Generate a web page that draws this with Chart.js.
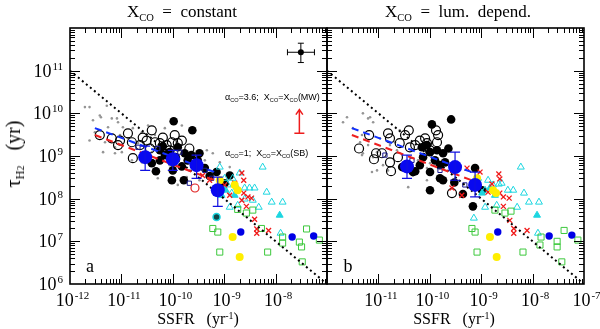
<!DOCTYPE html>
<html>
<head>
<meta charset="utf-8">
<script src="https://cdn.jsdelivr.net/npm/chart.js@4.4.0/dist/chart.umd.min.js"></script>
<style>
body { margin: 0; background: #fff; }
#wrap { position: relative; width: 600px; height: 329px; overflow: hidden; font-family: "Liberation Serif", serif; color: #000; }
canvas { position: absolute; left: 0; top: 0; }
.t { position: absolute; white-space: nowrap; transform: translate(-50%, -50%); line-height: 1; }
.sb { font-size: 0.62em; position: relative; top: 0.35em; }
.sp { font-size: 0.62em; position: relative; top: -0.55em; }
.ann { position: absolute; white-space: nowrap; font-family: "Liberation Sans", sans-serif; font-size: 9px; transform: translateY(-50%); line-height: 1; }
</style>
</head>
<body>
<div id="wrap">
  <canvas id="chartA" width="600" height="329"></canvas>
  <canvas id="chartB" width="600" height="329"></canvas>

  <div class="t" style="left:182px;top:11px;font-size:17px">X<span class="sb">CO</span>&nbsp; = &nbsp;constant</div>
  <div class="t" style="left:458px;top:11px;font-size:17px">X<span class="sb">CO</span>&nbsp; = &nbsp;lum.&nbsp; depend.</div>
  <div class="t" style="left:13px;top:154px;font-size:20px;transform:translate(-50%,-50%) rotate(-90deg)">&tau;<span class="sb">H<span style="font-size:0.8em">2</span></span>&nbsp;&nbsp; (yr)</div>
  <div class="t" style="left:198px;top:319px;font-size:16px">SSFR&nbsp;&nbsp; (yr<span class="sp">-1</span>)</div>
  <div class="t" style="left:454px;top:319px;font-size:16px">SSFR&nbsp;&nbsp; (yr<span class="sp">-1</span>)</div>
  <div class="t" style="left:90px;top:266px;font-size:18px">a</div>
  <div class="t" style="left:348px;top:266px;font-size:18px">b</div>
  <div class="ann" style="left:225px;top:97px">&alpha;<span class="sb">CO</span>=3.6;&nbsp; X<span class="sb">CO</span>=X<span class="sb">CO</span>(MW)</div>
  <div class="ann" style="left:225px;top:153px">&alpha;<span class="sb">CO</span>=1;&nbsp; X<span class="sb">CO</span>=X<span class="sb">CO</span>(SB)</div>
</div>

<script>
// axis decades and labels
const xDecades = [-12, -11, -10, -9, -8, -7];
const yDecades = [6, 7, 8, 9, 10, 11, 12];
const minorSteps = [2, 3, 4, 5, 6, 7, 8, 9];
const xLabelsA = [-12, -11, -10, -9, -8];
const xLabelsB = [-11, -10, -9, -8, -7];
const yLabels = [6, 7, 8, 9, 10, 11];

// reference lines [SSFR, tau]
const dottedLine = [[1e-12, 1e11], [1e-7, 1e6]];
const blueFit = [[3.05e-12, 4.5e9], [6.5e-10, 4.2e8]];
const redFit = [[3.05e-12, 3.1e9], [6.5e-10, 2.7e8]];

// typical error symbol [x, y, xlo, xhi, ylo, yhi] and alpha_CO arrow [x, ybottom, ytop]
const errSymbol = [3.1e-8, 2.7e11, 1.7e-8, 5.7e-8, 1.55e11, 4.4e11];
const alphaArrow = [2.9e-8, 3.4e9, 1.22e10];

// ---- panel a (X_CO constant) ----
const grayA = [[1.95e-12,1.4e10],[2.4e-12,1.4e10],[2.8e-12,6.9e9],[4.0e-12,8.1e9],[5.2e-12,1.5e10],[6.5e-12,7.6e9],
  [8.2e-12,7.6e9],[8.6e-12,6.2e9],[5.5e-12,4.7e9],[1.07e-11,4.7e9],[4.8e-12,2.1e9],[7.5e-12,1.6e9],[4.4e-12,1.23e9],
  [1.02e-11,1.23e9],[1.34e-11,2.6e9],[1.67e-11,4.5e9],[2.5e-11,3.6e9],[2.1e-11,2.0e9],[3.1e-11,1.8e9],[4.5e-11,3.1e9],
  [3.9e-11,1.23e9],[5.6e-11,1.36e9],[7.0e-11,4.5e9],[8.7e-11,6.1e8],[1.09e-10,5.2e8],[1.5e-10,5.2e9],[5.1e-11,3.0e8],
  [2.5e-11,7.1e8],[7.5e-12,1.16e9],[3.05e-12,3.6e9],[1.6e-11,7.9e8],[4.6e-10,1.36e9],[3.3e-10,2.7e8],[1.87e-10,3.2e8],
  [6.0e-10,1.16e9],[8.2e-10,7.1e8],[1.28e-9,5.5e8],[3.8e-12,8.9e9],[2.4e-12,2.3e9],[9.4e-12,3.1e9],[3.3e-11,5.2e9],
  [8.0e-11,2.3e9],[2.1e-10,4.6e8],[4.2e-10,7.9e8],[1.25e-10,2.1e8]];
const openA = [[3.8e-12,3.1e9],[6.5e-12,2.6e9],[9.4e-12,2.3e9],[8.6e-12,1.8e9],[1.34e-11,3.4e9],[1.6e-11,2.1e9],
  [1.67e-11,8.9e8],[2.6e-11,2.7e9],[3.1e-11,2.3e9],[3.9e-11,4.0e9],[4.5e-11,2.1e9],[5.6e-11,2.0e9],[6.4e-11,2.7e9],
  [7.6e-11,1.8e9],[9.6e-11,2.1e9],[1.09e-10,3.1e9],[1.25e-10,2.0e9],[1.5e-10,2.3e9],[8.7e-11,1.36e9],[2.1e-10,1.5e9],
  [3.6e-11,1.5e9],[2.3e-11,1.8e9]];
const filledA = [[1.04e-10,6.5e9],[2.4e-10,4.0e9],[3.9e-11,6.8e8],[4.7e-11,4.4e8],[9.6e-11,2.7e8],[1.64e-10,2.7e8],
  [5.6e-11,1.36e9],[7.0e-11,1.05e9],[8.7e-11,1.23e9],[1.14e-10,9.4e8],[1.7e-10,1.16e9],[2.3e-10,1.05e9],[3.3e-10,1.16e9],
  [1.5e-10,5.7e8],[1.0e-10,4.6e8],[1.95e-10,7.9e8],[7.1e-10,4.2e8],[6.4e-11,1.7e9],[1.25e-10,1.6e9],[3.05e-10,7.9e8],
  [4.2e-10,5.2e8],[5.2e-10,3.4e8],[1.02e-9,2.3e8],[5.6e-11,7.9e8],[1.28e-9,3.5e8]];
const navyA = [[2.1e-11,1.6e9],[5.1e-11,1.5e9],[1.37e-10,1.23e9],[4.2e-10,4.6e8],[5.7e-10,3.0e8],[2.1e-10,2.3e8]];
const cyanOpenA = [[8.2e-10,5.5e8],[1.02e-9,3.0e8],[1.46e-9,3.0e8],[2.0e-9,4.0e8],[1.75e-9,1.86e8],[2.5e-9,1.78e8],
  [3.1e-9,1.78e8],[3.9e-9,1.78e8],[5.6e-9,5.5e8],[6.7e-9,1.42e8],[8.4e-9,8.3e7],[1.37e-8,8.3e7],[3.6e-9,9.2e7],
  [1.28e-9,6.3e7],[1.83e-9,7.0e7],[2.5e-9,9.8e7],[4.7e-9,6.3e7],[1.25e-8,1.55e7],[1.17e-9,2.1e8],[1.4e-9,1.35e8]];
const cyanFillA = [[1.2e-8,4.1e7],[1.07e-9,1.58e8],[1.6e-9,1.2e8],[8.9e-10,1.2e8]];
const tealA = [[7.1e-10,3.7e7]];
const redA = [[3.8e-10,3.5e8],[5.2e-10,2.7e8],[2.2e-9,4.0e8],[2.4e-9,2.7e8],[1.6e-9,2.3e8],[1.83e-9,1.58e8],
  [2.4e-9,1.35e8],[2.9e-9,1.1e8],[3.4e-9,1.03e8],[2.2e-9,9.2e7],[2.7e-9,6.6e7],[3.9e-9,3.3e7],[4.3e-9,1.95e7],
  [4.3e-9,1.55e7],[7.3e-9,1.8e7],[1.02e-9,2.1e8],[1.28e-9,1.2e8]];
const redRingA = [[2.7e-10,1.78e8]];
const greenA = [[1.83e-9,5.6e7],[2.7e-9,4.6e7],[3.6e-9,5.4e7],[6.0e-10,2.0e7],[7.5e-10,1.65e7],[8.2e-10,5.6e6],
  [5.3e-9,2.0e7],[7.0e-9,5.6e6],[1.37e-8,1.26e7],[1.37e-8,9.1e6],[2.9e-8,9.6e6],[3.2e-8,7.4e6],[4.0e-8,1.95e7],
  [3.3e-8,3.3e6],[7.1e-8,1.07e7]];
const yellowA = [[8.2e-10,2.7e8],[1.6e-9,2.1e8],[1.83e-9,1.58e8],[1.46e-9,1.26e7],[2.0e-9,4.3e6]];
const blueSmallA = [[2.1e-9,1.65e7],[2.1e-8,1.26e7],[5.5e-8,1.33e7]];
// binned means [SSFR, tau, tau_lo, tau_hi]
const binsA = [[2.9e-11,9.4e8,4.6e8,1.7e9],[1.0e-10,8.4e8,4.6e8,1.36e9],[2.9e-10,6.1e8,3.0e8,1.05e9],[7.5e-10,1.58e8,6.6e7,3.2e8]];

// ---- panel b (X_CO luminosity dependent) ----
const grayB = [[2.05e-12,6.2e9],[2.45e-12,8.1e9],[4.8e-12,3.1e9],[6.9e-12,8.1e9],[7.9e-12,6.2e9],[7.9e-12,9.4e8],
  [9.4e-12,1.23e9],[1.68e-11,1.8e9],[2.3e-11,1.36e9],[1.54e-11,4.6e8],[3.8e-11,1.86e8],[1.23e-11,6.1e8],[5.9e-11,7.9e8],
  [6.4e-11,5.5e8],[8.8e-11,5.2e8],[1.01e-10,6.8e8],[4.7e-11,3.5e8],[5.0e-12,1.16e9],[6.3e-12,1.8e9],[4.4e-12,2.1e9],
  [1.07e-11,2.6e9],[2.1e-11,2.1e9],[5.0e-12,1.0e10],[6.3e-12,7.6e9],[4.8e-12,1.05e9],[7.5e-12,4.2e8],[9.4e-12,4.6e8],
  [8.8e-11,2.7e8],[3.2e-12,4.5e9],[2.6e-11,4.0e9]];
const openB = [[4.2e-12,1.5e9],[6.6e-12,3.1e9],[8.2e-12,8.4e8],[9.0e-12,1.16e9],[1.17e-11,1.16e9],[1.68e-11,2.6e9],
  [1.68e-11,7.1e8],[1.76e-11,4.4e8],[2.4e-11,9.4e8],[2.6e-11,2.0e9],[3.3e-11,3.1e9],[3.9e-11,4.0e9],[4.1e-11,1.6e9],
  [6.4e-11,2.3e9],[8.1e-11,2.6e9],[8.8e-11,2.0e9],[1.32e-10,4.0e9],[1.45e-10,3.1e9],[1.38e-10,2.1e9],[2.7e-10,1.35e8],
  [1.54e-11,3.4e9],[5.2e-11,1.8e9],[1.01e-10,1.36e9]];
const filledB = [[1.1e-10,5.5e9],[2.6e-10,7.2e9],[5.2e-11,4.4e8],[1.01e-10,4.2e8],[1.58e-10,3.0e8],[1.01e-10,1.58e8],
  [2.9e-11,5.5e8],[7.4e-11,9.4e8],[1.01e-10,1.23e9],[1.38e-10,1.36e9],[1.81e-10,1.16e9],[2.3e-10,1.5e9],[1.58e-10,6.1e8],
  [1.98e-10,7.1e8],[7.0e-11,1.6e9],[8.8e-11,1.8e9],[6.9e-10,6.6e7],[4.4e-10,1.29e8],[3.0e-10,2.4e8],[1.81e-10,2.7e8],
  [7.6e-10,5.2e8],[1.04e-9,1.58e8],[4.7e-11,4.2e8],[1.26e-10,7.9e8],[6.4e-11,6.1e8]];
const navyB = [[1.34e-11,1.05e9],[4.5e-11,7.9e8],[1.58e-10,4.6e8],[4.8e-10,2.1e8]];
const cyanOpenB = [[5.9e-9,5.5e8],[2.2e-9,2.2e8],[1.7e-9,2.1e8],[3.3e-9,1.58e8],[4.2e-9,1.58e8],[6.8e-9,1.35e8],
  [8.5e-9,8.3e7],[1.33e-8,8.3e7],[5.0e-9,6.3e7],[1.19e-9,6.3e7],[7.2e-10,3.5e7],[1.27e-8,1.55e7],[2.5e-9,2.3e8],
  [1.19e-9,1.58e8],[2.0e-9,7.0e7],[8.7e-10,3.0e8],[1.36e-9,2.7e8]];
const cyanFillB = [[1.22e-8,4.1e7],[1.48e-9,1.78e8],[1.85e-9,1.2e8],[1.04e-9,1.35e8]];
const redB = [[2.2e-9,3.8e8],[2.3e-9,2.9e8],[1.62e-9,2.2e8],[2.7e-9,1.1e8],[3.5e-9,1.03e8],[2.3e-9,1.35e8],
  [4.3e-9,2.0e7],[4.3e-9,1.55e7],[7.8e-9,1.8e7],[2.8e-10,4.6e8],[5.3e-10,5.2e8],[2.7e-10,1.78e8],[4.2e-10,1.2e8],
  [2.7e-9,6.6e7],[3.6e-9,3.1e7],[9.5e-10,4.2e8],[1.36e-9,1.42e8]];
const greenB = [[1.85e-9,5.4e7],[2.9e-9,4.6e7],[3.8e-9,5.1e7],[6.6e-10,2.0e7],[7.6e-10,1.65e7],[8.3e-10,5.6e6],
  [6.5e-9,5.6e6],[1.46e-8,1.26e7],[1.39e-8,8.2e6],[3.0e-8,1.0e7],[3.0e-8,7.4e6],[4.1e-8,1.8e7],[7.6e-8,1.07e7],
  [3.7e-8,3.3e6]];
const yellowB = [[8.3e-10,3.0e8],[1.7e-9,1.58e8],[1.94e-9,1.35e8],[1.48e-9,1.26e7],[2.0e-9,4.3e6]];
const blueSmallB = [[2.1e-9,1.65e7],[2.1e-8,1.33e7],[5.8e-8,1.4e7]];
const binsB = [[3.6e-11,5.7e8,3.0e8,1.05e9],[3.1e-10,5.5e8,2.7e8,1.23e9],[7.6e-10,2.1e8,1.1e8,4.2e8]];

function pts(list) {
  return list.map(function (p) { return { x: p[0], y: p[1] }; });
}

function scatterSet(list, style, order) {
  var d = { data: pts(list), showLine: false, order: order, pointHoverRadius: 0 };
  return Object.assign(d, style);
}

function lineSet(list, color, width, dash, order) {
  return { data: pts(list), showLine: true, borderColor: color, borderWidth: width,
    borderDash: dash, pointRadius: 0, fill: false, order: order };
}

var clear = 'rgba(0,0,0,0)';
var stGray = { pointRadius: 1.3, pointBackgroundColor: '#959595', pointBorderWidth: 0 };
var stOpen = { pointRadius: 4.5, pointBackgroundColor: clear, pointBorderColor: '#000', pointBorderWidth: 1.2 };
var stFilled = { pointRadius: 4.3, pointBackgroundColor: '#000', pointBorderWidth: 0 };
var stNavy = { pointStyle: 'rect', pointRadius: 3, pointBackgroundColor: clear, pointBorderColor: '#1a1a90', pointBorderWidth: 1 };
var stCyanOpen = { pointStyle: 'triangle', pointRadius: 4, pointBackgroundColor: clear, pointBorderColor: '#1cd6e0', pointBorderWidth: 1 };
var stCyanFill = { pointStyle: 'triangle', pointRadius: 4, pointBackgroundColor: '#1cd6e0', pointBorderColor: '#1cd6e0', pointBorderWidth: 1 };
var stTeal = { pointRadius: 3.5, pointBackgroundColor: '#124848', pointBorderColor: '#1cd6e0', pointBorderWidth: 1.5 };
var stRed = { pointStyle: 'crossRot', pointRadius: 3.5, pointBorderColor: '#f01818', pointBorderWidth: 1.3 };
var stRedRing = { pointRadius: 4, pointBackgroundColor: clear, pointBorderColor: '#e02020', pointBorderWidth: 1.2 };
var stGreen = { pointStyle: 'rect', pointRadius: 4.3, pointBackgroundColor: clear, pointBorderColor: '#3cc83c', pointBorderWidth: 1 };
var stYellow = { pointRadius: 4, pointBackgroundColor: '#ffee00', pointBorderWidth: 0 };
var stBlueSmall = { pointRadius: 3.7, pointBackgroundColor: '#0000e6', pointBorderWidth: 0 };
var stBins = { pointRadius: 7, pointBackgroundColor: '#0808f0', pointBorderWidth: 0 };
var stErr = { pointRadius: 3, pointBackgroundColor: '#000', pointBorderWidth: 0 };

function drawPow(ctx, e, px, py, align) {
  var base = '10', sup = String(e);
  ctx.font = '18px "Liberation Serif"';
  var w1 = ctx.measureText(base).width;
  ctx.font = '11px "Liberation Serif"';
  var w2 = ctx.measureText(sup).width;
  var left = align === 'right' ? px - w1 - w2 - 1 : px - (w1 + w2) / 2;
  ctx.fillStyle = '#000';
  ctx.textAlign = 'left';
  ctx.textBaseline = 'alphabetic';
  ctx.font = '18px "Liberation Serif"';
  ctx.fillText(base, left, py);
  ctx.font = '11px "Liberation Serif"';
  ctx.fillText(sup, left + w1 + 1, py - 7);
}

const framePlugin = {
  id: 'frame',
  afterDatasetsDraw: function (chart, args, o) {
    var ctx = chart.ctx, x = chart.scales.x, y = chart.scales.y;
    ctx.save();
    ctx.lineWidth = 1.2;
    ctx.strokeStyle = '#1010e0';
    (o.bins || []).forEach(function (b) {
      var px = x.getPixelForValue(b[0]);
      var lo = y.getPixelForValue(b[2]), hi = y.getPixelForValue(b[3]);
      ctx.beginPath();
      ctx.moveTo(px, lo); ctx.lineTo(px, hi);
      ctx.moveTo(px - 5, lo); ctx.lineTo(px + 5, lo);
      ctx.moveTo(px - 5, hi); ctx.lineTo(px + 5, hi);
      ctx.stroke();
    });
    if (o.err) {
      var e = o.err;
      var ex = x.getPixelForValue(e[0]), ey = y.getPixelForValue(e[1]);
      var x0 = x.getPixelForValue(e[2]), x1 = x.getPixelForValue(e[3]);
      var y0 = y.getPixelForValue(e[4]), y1 = y.getPixelForValue(e[5]);
      ctx.strokeStyle = '#000';
      ctx.lineWidth = 1;
      ctx.beginPath();
      ctx.moveTo(x0, ey); ctx.lineTo(x1, ey);
      ctx.moveTo(x0, ey - 3); ctx.lineTo(x0, ey + 3);
      ctx.moveTo(x1, ey - 3); ctx.lineTo(x1, ey + 3);
      ctx.moveTo(ex, y0); ctx.lineTo(ex, y1);
      ctx.moveTo(ex - 3, y0); ctx.lineTo(ex + 3, y0);
      ctx.moveTo(ex - 3, y1); ctx.lineTo(ex + 3, y1);
      ctx.stroke();
    }
    if (o.arrow) {
      var r = o.arrow;
      var ax = x.getPixelForValue(r[0]), ab = y.getPixelForValue(r[1]), at = y.getPixelForValue(r[2]);
      ctx.strokeStyle = '#ee1c1c';
      ctx.lineWidth = 1.5;
      ctx.beginPath();
      ctx.moveTo(ax, ab); ctx.lineTo(ax, at);
      ctx.moveTo(ax - 5, ab); ctx.lineTo(ax + 5, ab);
      ctx.moveTo(ax - 3.5, at + 5); ctx.lineTo(ax, at); ctx.lineTo(ax + 3.5, at + 5);
      ctx.stroke();
    }
    ctx.restore();
  },
  afterDraw: function (chart, args, o) {
    var ctx = chart.ctx, a = chart.chartArea, x = chart.scales.x, y = chart.scales.y;
    ctx.save();
    ctx.strokeStyle = '#000';
    ctx.lineWidth = 1;
    ctx.beginPath();
    xDecades.forEach(function (d) {
      [1].concat(minorSteps).forEach(function (k) {
        var v = k * Math.pow(10, d);
        if (v <= x.min * 1.0001 || v >= x.max * 0.9999) return;
        var px = Math.round(x.getPixelForValue(v)) + 0.5;
        var len = k === 1 ? 10 : 5;
        ctx.moveTo(px, a.bottom); ctx.lineTo(px, a.bottom - len);
        ctx.moveTo(px, a.top); ctx.lineTo(px, a.top + len);
      });
    });
    yDecades.forEach(function (d) {
      [1].concat(minorSteps).forEach(function (k) {
        var v = k * Math.pow(10, d);
        if (v <= y.min * 1.0001 || v >= y.max * 0.9999) return;
        var py = Math.round(y.getPixelForValue(v)) + 0.5;
        var len = k === 1 ? 10 : 5;
        ctx.moveTo(a.left, py); ctx.lineTo(a.left + len, py);
        ctx.moveTo(a.right, py); ctx.lineTo(a.right - len, py);
      });
    });
    ctx.stroke();
    ctx.lineWidth = 1.6;
    ctx.strokeRect(a.left, a.top, a.right - a.left, a.bottom - a.top);
    (o.xl || []).forEach(function (d) {
      drawPow(ctx, d, x.getPixelForValue(Math.pow(10, d)) + 2, a.bottom + 22, 'center');
    });
    (o.yl || []).forEach(function (d) {
      drawPow(ctx, d, a.left - 7, y.getPixelForValue(Math.pow(10, d)) + 6, 'right');
    });
    ctx.restore();
  }
};

function makeChart(id, pad, sets, frameOpts) {
  return new Chart(document.getElementById(id), {
    type: 'scatter',
    data: { datasets: sets },
    plugins: [framePlugin],
    options: {
      responsive: false,
      animation: false,
      events: [],
      devicePixelRatio: 1,
      layout: { padding: pad },
      scales: {
        x: { type: 'logarithmic', min: 1e-12, max: 1e-7, display: false },
        y: { type: 'logarithmic', min: 1e6, max: 1e12, display: false }
      },
      plugins: { legend: { display: false }, tooltip: { enabled: false }, frame: frameOpts }
    }
  });
}

var setsA = [
  scatterSet(grayA, stGray, 20),
  scatterSet(openA, stOpen, 19),
  scatterSet(filledA, stFilled, 18),
  scatterSet(navyA, stNavy, 17),
  scatterSet(cyanOpenA, stCyanOpen, 16),
  scatterSet(cyanFillA, stCyanFill, 15),
  scatterSet(greenA, stGreen, 14),
  scatterSet(redA, stRed, 13),
  scatterSet(redRingA, stRedRing, 12),
  scatterSet(tealA, stTeal, 11),
  scatterSet(yellowA, stYellow, 10),
  scatterSet(blueSmallA, stBlueSmall, 9),
  lineSet(dottedLine, '#000', 2, [2, 3.2], 5),
  lineSet(redFit, '#ee2020', 2, [7, 5], 4),
  lineSet(blueFit, '#1030ff', 2, [7, 5], 3),
  scatterSet(binsA, stBins, 2),
  scatterSet([errSymbol], stErr, 1)
];

var setsB = [
  scatterSet(grayB, stGray, 20),
  scatterSet(openB, stOpen, 19),
  scatterSet(filledB, stFilled, 18),
  scatterSet(navyB, stNavy, 17),
  scatterSet(cyanOpenB, stCyanOpen, 16),
  scatterSet(cyanFillB, stCyanFill, 15),
  scatterSet(greenB, stGreen, 14),
  scatterSet(redB, stRed, 13),
  scatterSet(yellowB, stYellow, 10),
  scatterSet(blueSmallB, stBlueSmall, 9),
  lineSet(dottedLine, '#000', 2, [2, 3.2], 5),
  lineSet(redFit, '#ee2020', 2, [7, 5], 4),
  lineSet(blueFit, '#1030ff', 2, [7, 5], 3),
  scatterSet(binsB, stBins, 2)
];

makeChart('chartA', { left: 70, right: 273, top: 28, bottom: 45 }, setsA,
  { xl: xLabelsA, yl: yLabels, bins: binsA, err: errSymbol, arrow: alphaArrow });
makeChart('chartB', { left: 327, right: 16, top: 28, bottom: 45 }, setsB,
  { xl: xLabelsB, yl: [], bins: binsB });
</script>
</body>
</html>
